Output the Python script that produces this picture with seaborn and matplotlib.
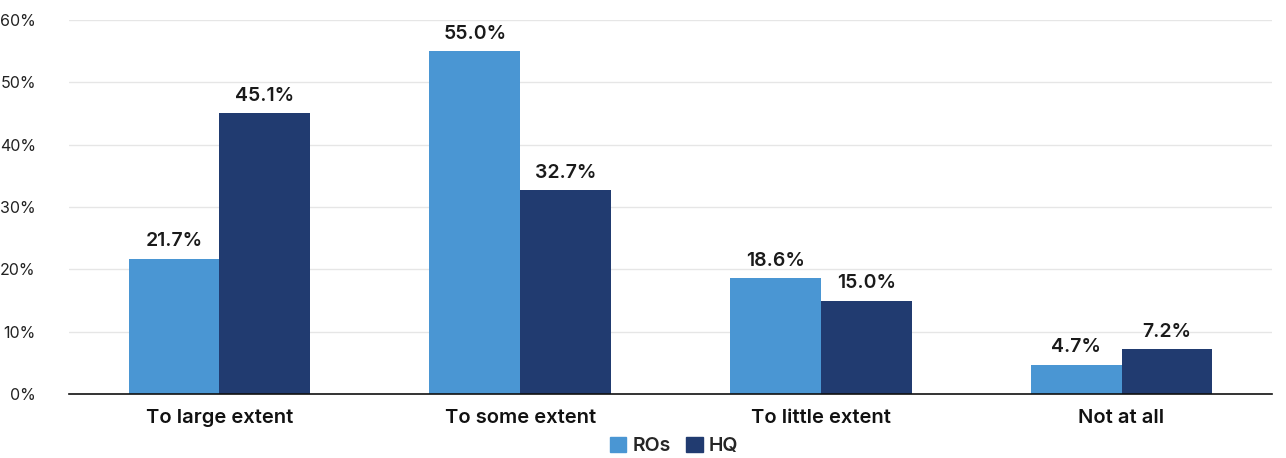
import matplotlib
matplotlib.use("Agg")
import matplotlib.pyplot as plt
import seaborn as sns
import pandas as pd

categories = ["To large extent", "To some extent", "To little extent", "Not at all"]
ros_values = [21.7, 55.0, 18.6, 4.7]
hq_values = [45.1, 32.7, 15.0, 7.2]
series_names = ["ROs", "HQ"]
y_ticks = [0, 10, 20, 30, 40, 50, 60]

colors = {"ROs": "#4a96d3", "HQ": "#213b70"}

df = pd.DataFrame({
    "category": categories * 2,
    "value": ros_values + hq_values,
    "series": [series_names[0]] * len(categories) + [series_names[1]] * len(categories),
})

sns.set_theme(style="white")
plt.rcParams["font.family"] = ["Inter", "DejaVu Sans"]

fig = plt.figure(figsize=(12.86, 4.58), dpi=100)
ax = fig.add_axes([0.0537, 0.1397, 0.9353, 0.8166])

sns.barplot(data=df, x="category", y="value", hue="series", order=categories,
            hue_order=series_names, palette=colors, width=0.604, gap=0,
            saturation=1, linewidth=0, edgecolor="none", ax=ax, legend=False)

for container in ax.containers:
    ax.bar_label(container, labels=[f"{b.get_height():.1f}%" for b in container],
                 padding=6, fontsize=14, fontweight="semibold", color="#1a1a1a")

ax.set_xlim(-0.5, 3.5)
ax.set_ylim(0, 60)
ax.set_yticks(y_ticks)
ax.set_yticklabels([f"{t}%" for t in y_ticks], fontsize=11.5, color="#222222")
ax.tick_params(axis="y", length=0, pad=24)
ax.tick_params(axis="x", length=0, pad=11, labelsize=14.5, labelcolor="#111111")
for lbl in ax.get_xticklabels():
    lbl.set_fontweight("semibold")
ax.set_xlabel("")
ax.set_ylabel("")
ax.grid(axis="y", color="#e6e6e6", linewidth=1)
ax.set_axisbelow(True)
for side in ["top", "right", "left"]:
    ax.spines[side].set_visible(False)
ax.spines["bottom"].set_color("#111111")
ax.spines["bottom"].set_linewidth(1.2)

handles = [plt.Rectangle((0, 0), 1, 1, color=colors[s]) for s in series_names]
fig.legend(handles, series_names, loc="lower center", bbox_to_anchor=(0.524, -0.032),
           ncol=2, frameon=False, handlelength=0.85, handleheight=0.85,
           handletextpad=0.3, columnspacing=0.8,
           prop={"size": 14, "weight": "semibold"})

fig.savefig("out.png", dpi=100)
